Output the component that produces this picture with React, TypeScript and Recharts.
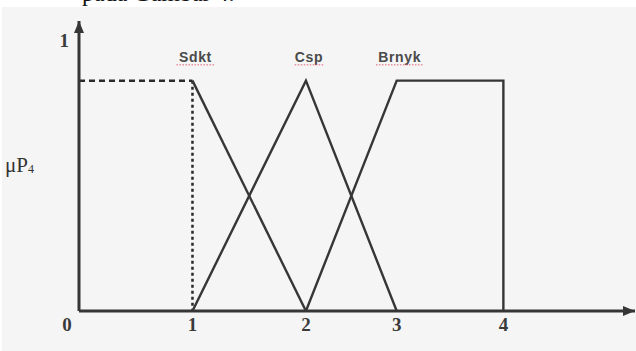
import { LineChart, Line, XAxis, YAxis, ReferenceDot } from 'recharts'

// membership breakpoints as they sit on the drawn axis (unit = distance 0..1)
const xTicks = [0, 1, 2, 2.8, 3.74]
const xTickLabels = ['0', '1', '2', '3', '4']
const yTicks = [1]
const xMax = 4.9
const yMax = 1.07

const sdktGuideH = [{ x: 0, y: 0.85 }, { x: 1, y: 0.85 }]
const sdktGuideV = [{ x: 1, y: 0.85 }, { x: 1, y: 0 }]
const sdktLine = [{ x: 1, y: 0.85 }, { x: 2, y: 0 }]
const cspLine = [{ x: 1, y: 0 }, { x: 2, y: 0.85 }, { x: 2.8, y: 0 }]
const brnykLine = [{ x: 2, y: 0 }, { x: 2.8, y: 0.85 }, { x: 3.74, y: 0.85 }, { x: 3.74, y: 0 }]

const setNames = ['Sdkt', 'Csp', 'Brnyk']
const setPeaksX = [1, 2, 2.8]
const setPeakY = 0.85

const INK = '#363636'
const SERIF = '"Liberation Serif", "DejaVu Serif", serif'

const XTick = (props: any) => {
  const { x, y, payload, index } = props
  const shift = index === 0 ? -12 : 0
  return (
    <text x={x + shift} y={y} dy="0.71em" textAnchor="middle" fontFamily={SERIF} fontSize={19} fontWeight="bold" fill="#3a3a3a">
      {xTickLabels[index] ?? payload.value}
    </text>
  )
}

const SetLabel = (props: any) => {
  const { viewBox, value } = props
  const cx = viewBox.x + 3
  const cy = viewBox.y - 19
  const w = value.length * 9.5
  return (
    <g>
      <text x={cx} y={cy} textAnchor="middle" fontFamily='"Liberation Sans", Arial, sans-serif' fontSize={14} fontWeight="bold" letterSpacing={0.6} fill="#4a4a4a">
        {value}
      </text>
      <line x1={cx - w / 2} x2={cx + w / 2} y1={cy + 3} y2={cy + 3} stroke="#e0506a" strokeWidth={1.5} strokeDasharray="1.5 1.5" opacity={0.6} />
    </g>
  )
}

const ArrowRight = (props: any) => {
  const { cx, cy } = props
  return <path d={`M${cx},${cy} L${cx - 12},${cy - 5} L${cx - 12},${cy + 5} Z`} fill={INK} />
}

const ArrowUp = (props: any) => {
  const { cx, cy } = props
  return <path d={`M${cx},${cy} L${cx - 5},${cy + 12} L${cx + 5},${cy + 12} Z`} fill={INK} />
}

const YLabel = (props: any) => {
  const { viewBox } = props
  return (
    <text x={viewBox.x + 5} y={viewBox.y + viewBox.height * 0.5 + 6} fontFamily={SERIF} fontSize={21} fill="#333">
      μP<tspan fontSize={12} dy={1}>4</tspan>
    </text>
  )
}

export default function App() {
  return (
    <div style={{ position: 'relative', width: 636, height: 351, background: '#fff', overflow: 'hidden' }}>
      <style>{'body{margin:0}'}</style>
      <div style={{ position: 'absolute', left: 2, top: 7, right: 0, bottom: 0, background: '#f5f5f5' }} />
      <div style={{ position: 'absolute', left: 82, top: -19, fontFamily: SERIF, fontSize: 24, color: '#111', whiteSpace: 'nowrap', lineHeight: '24px' }}>
        pada Gambar 4.
      </div>
      <div style={{ position: 'absolute', left: 0, top: 0 }}>
        <LineChart width={636} height={351} margin={{ top: 21, right: 1, bottom: 0, left: 0 }}>
          <XAxis
            type="number"
            dataKey="x"
            domain={[0, xMax]}
            ticks={xTicks}
            tick={<XTick />}
            tickLine={false}
            tickSize={0}
            tickMargin={7}
            height={40}
            axisLine={{ stroke: INK, strokeWidth: 3 }}
            allowDataOverflow
          />
          <YAxis
            type="number"
            dataKey="y"
            domain={[0, yMax]}
            ticks={yTicks}
            tick={{ fontFamily: SERIF, fontSize: 19, fontWeight: 'bold', fill: '#3a3a3a' }}
            tickLine={false}
            tickSize={0}
            tickMargin={10}
            width={79}
            axisLine={{ stroke: INK, strokeWidth: 3 }}
            allowDataOverflow
            label={<YLabel />}
          />
          <Line data={sdktGuideH} dataKey="y" type="linear" stroke="#2a2a2a" strokeWidth={2.5} strokeDasharray="6 4" dot={false} isAnimationActive={false} />
          <Line data={sdktGuideV} dataKey="y" type="linear" stroke="#2a2a2a" strokeWidth={2.5} strokeDasharray="3 3" dot={false} isAnimationActive={false} />
          <Line data={sdktLine} dataKey="y" type="linear" stroke={INK} strokeWidth={2.4} dot={false} isAnimationActive={false} />
          <Line data={cspLine} dataKey="y" type="linear" stroke={INK} strokeWidth={2.4} dot={false} isAnimationActive={false} />
          <Line data={brnykLine} dataKey="y" type="linear" stroke={INK} strokeWidth={2.4} dot={false} isAnimationActive={false} />
          {setNames.map((name, i) => (
            <ReferenceDot key={name} x={setPeaksX[i]} y={setPeakY} r={0} fill="none" stroke="none" ifOverflow="visible" label={<SetLabel value={name} />} />
          ))}
          <ReferenceDot x={xMax} y={0} ifOverflow="visible" shape={<ArrowRight />} />
          <ReferenceDot x={0} y={yMax} ifOverflow="visible" shape={<ArrowUp />} />
        </LineChart>
      </div>
    </div>
  )
}
